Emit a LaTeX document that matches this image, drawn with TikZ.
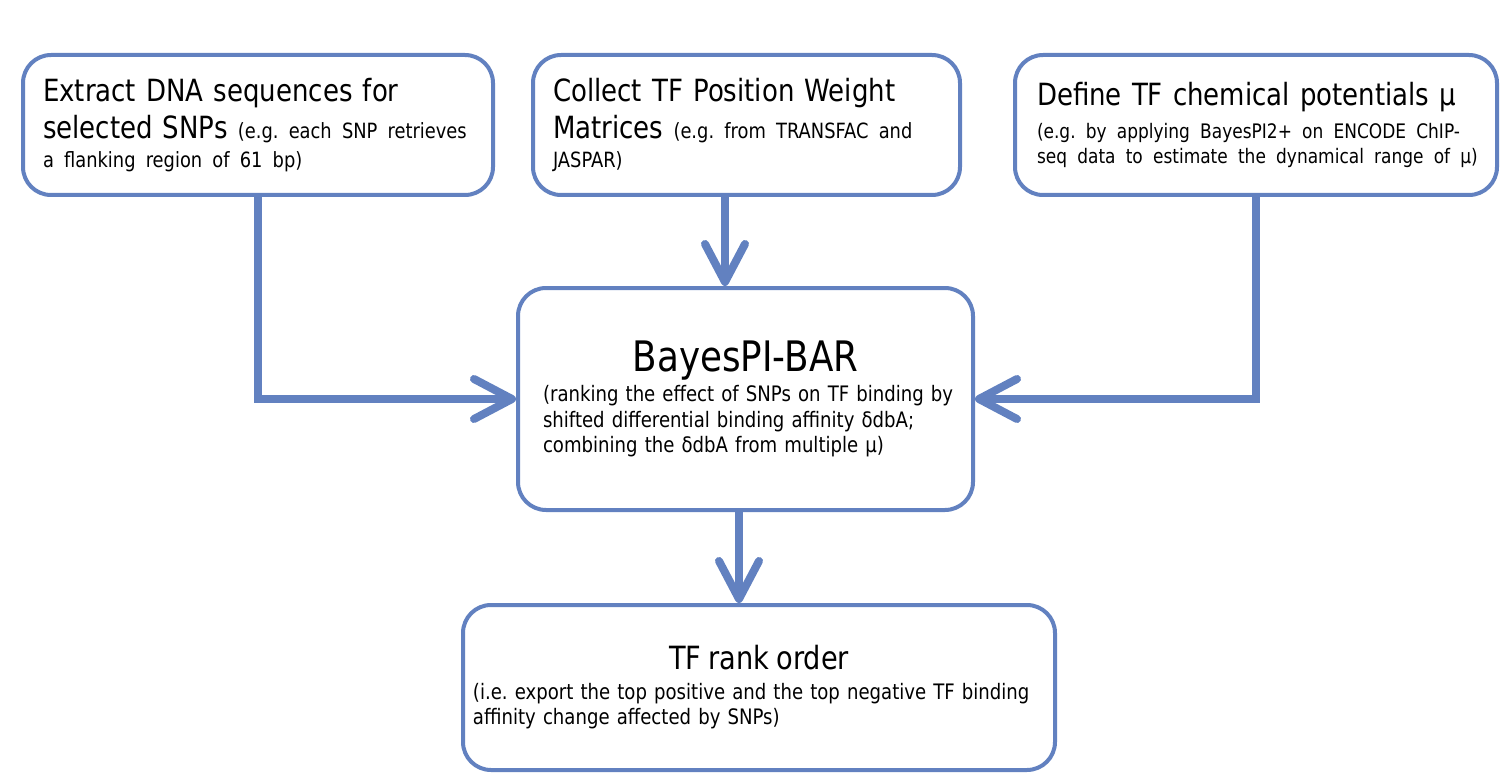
\documentclass[tikz,border=0pt]{standalone}
\usepackage{fontspec}
\setmainfont{DejaVu Sans}[FakeStretch=0.85, WordSpace=0.75]
\usetikzlibrary{arrows.meta}
\definecolor{flowblue}{RGB}{98,129,192}
\newcommand{\headfont}{\fontsize{15.3}{18.5}\selectfont}
\newcommand{\notefont}{\fontsize{10.5}{12.5}\selectfont}
\newcommand{\smallnotefont}{\fontsize{10}{12.5}\selectfont}
\newcommand{\titlefont}{\fontsize{21}{24}\selectfont}
\newcommand{\bodyfont}{\fontsize{10.65}{12.75}\selectfont}
\newcommand{\rankfont}{\fontsize{16}{18.5}\selectfont}
\frenchspacing
\begin{document}
\begin{tikzpicture}[x=0.5pt, y=-0.5pt,
    box/.style={draw=flowblue, line width=2pt, rounded corners=14pt, fill=white, align=left, inner xsep=2pt, inner ysep=0pt},
    flow/.style={draw=flowblue, line width=4pt, -{Straight Barb[length=19pt, width=20pt, line cap=round, line join=round]}}]
  \useasboundingbox (0,0) rectangle (1512,781);
  % the three inputs
  \node[box, font=\headfont, minimum width=235pt, minimum height=70pt, text width=215pt] (extract) at (258,125)
    {\mbox{Extract DNA sequences for}\\ \mbox{selected SNPs {\notefont (e.g. each SNP retrieves}}\\[-4pt] \mbox{\notefont a flanking region of 61 bp)}};
  \node[box, font=\headfont, minimum width=213.5pt, minimum height=70pt, text width=193.5pt] (collect) at (746.5,125)
    {\mbox{Collect TF Position Weight}\\ \mbox{Matrices {\notefont (e.g. from TRANSFAC and}}\\[-4pt] \mbox{\notefont JASPAR)}};
  \node[box, font=\headfont, minimum width=241pt, minimum height=70pt, text width=219pt] (define) at (1256,125)
    {\mbox{Define TF chemical potentials μ}\\[-2pt] \mbox{\smallnotefont (e.g. by applying BayesPI2+ on ENCODE ChIP-}\\[-6pt] \mbox{\smallnotefont seq data to estimate the dynamical range of μ)}};
  % method and result
  \node[box, font=\bodyfont, minimum width=227.5pt, minimum height=111pt, text width=202.5pt] (bayes) at (745.5,399)
    {{\centering\titlefont BayesPI-BAR\par}\vspace{2.5pt}
     \mbox{(ranking the effect of SNPs on TF binding by}\\ \mbox{shifted differential binding affinity δdbA;}\\ \mbox{combining the δdbA from multiple μ)}};
  \node[box, font=\bodyfont, minimum width=296pt, minimum height=82.5pt, text width=286pt] (rank) at (759,687.5)
    {{\centering\rankfont TF rank order\par}\vspace{2pt}
     \mbox{(i.e. export the top positive and the top negative TF binding}\\ \mbox{affinity change affected by SNPs)}};
  \coordinate (collectout) at ([xshift=-10.75pt]collect.south);
  \coordinate (bayesout) at ([xshift=-3.25pt]bayes.south);
  \draw[flow] (extract.south) |- (bayes.west);
  \draw[flow] (define.south) |- (bayes.east);
  \draw[flow] (collectout) -- (collectout |- bayes.north);
  \draw[flow] (bayesout) -- (bayesout |- rank.north);
\end{tikzpicture}
\end{document}
